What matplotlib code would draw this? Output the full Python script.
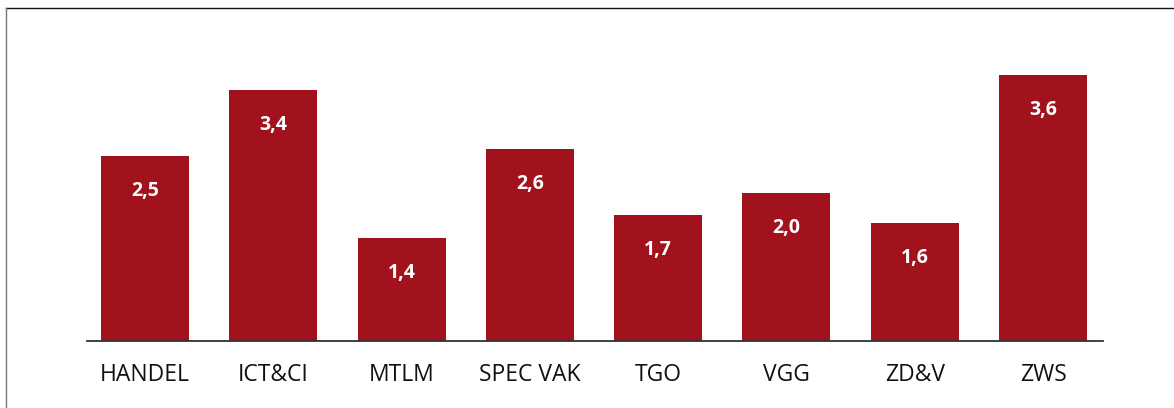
import matplotlib
matplotlib.use("Agg")
import matplotlib.pyplot as plt
from matplotlib.lines import Line2D

categories = ["HANDEL", "ICT&CI", "MTLM", "SPEC VAK", "TGO", "VGG", "ZD&V", "ZWS"]
values = [2.5, 3.4, 1.4, 2.6, 1.7, 2.0, 1.6, 3.6]
value_labels = ["2,5", "3,4", "1,4", "2,6", "1,7", "2,0", "1,6", "3,6"]

bar_color = "#A2121D"

fig = plt.figure(figsize=(11.74, 4.08), dpi=100)
W, H = 1174, 408
x0, x1 = 87, 1103
y_base = 340.7
px_per_unit = 73.7
ymax = 4.0
ax = fig.add_axes([x0 / W, (H - y_base) / H, (x1 - x0) / W, ymax * px_per_unit / H])

xs = list(range(len(categories)))
ax.bar(xs, values, width=0.686, color=bar_color, zorder=2)
ax.set_xlim(-0.452, 7.467)
ax.set_ylim(0, ymax)

for x, v, lab in zip(xs, values, value_labels):
    ax.text(x, v - 35 / px_per_unit, lab, ha="center", va="center",
            color="white", fontsize=14, fontweight="bold", family="Open Sans")

for s in ["top", "right", "left"]:
    ax.spines[s].set_visible(False)
ax.spines["bottom"].set_color("#333333")
ax.spines["bottom"].set_linewidth(1.3)
ax.set_yticks([])
ax.set_xticks(xs)
ax.set_xticklabels(categories, fontsize=16.5, family="Open Sans", color="#111111")
ax.tick_params(axis="x", length=0, pad=16)

fig.add_artist(Line2D([6 / W, 1.0], [1 - 8 / H, 1 - 8 / H], transform=fig.transFigure,
                      color="#111111", linewidth=1.0))
fig.add_artist(Line2D([6 / W, 6 / W], [0, 1 - 8 / H], transform=fig.transFigure,
                      color="#777777", linewidth=1.0))

fig.savefig("out.png", dpi=100)
